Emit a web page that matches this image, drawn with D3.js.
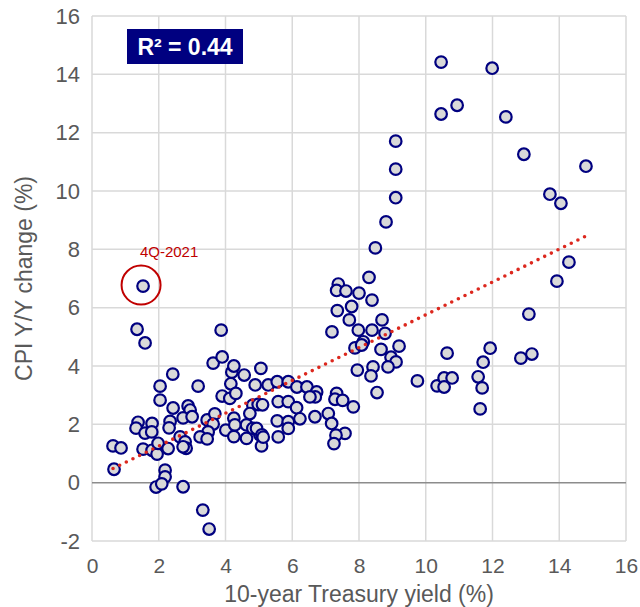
<!DOCTYPE html>
<html>
<head>
<meta charset="utf-8">
<script src="https://cdn.jsdelivr.net/npm/d3@7"></script>
<style>
  body { margin: 0; background: #fff; }
  text { font-family: "Liberation Sans", Arial, sans-serif; }
</style>
</head>
<body>
<div id="chart"></div>
<script>
// 10-year Treasury yield (%) and CPI Y/Y change (%), one entry per quarter
var treasuryYield = [
  0.66,0.63,0.87,1.53,1.35,1.59,1.38,1.32,1.80,1.59,1.79,1.53,1.80,1.95,1.98,1.92,
  2.04,2.04,2.42,2.19,2.19,2.09,2.73,3.32,3.51,3.18,2.43,2.88,2.94,2.34,2.31,2.73,
  3.00,3.45,3.68,3.63,3.48,3.24,3.45,2.64,2.79,2.82,2.28,3.87,3.63,3.90,3.90,2.73,
  4.16,4.19,4.25,4.56,5.06,4.89,5.28,5.55,5.88,4.13,4.31,4.82,4.98,5.11,5.58,5.88,
  4.01,4.25,4.28,4.25,4.63,4.82,4.73,4.63,5.03,5.08,4.93,5.09,5.55,5.58,5.88,5.88,5.13,
  6.14,6.44,6.73,6.69,6.53,6.13,6.23,6.68,7.08,7.18,7.58,7.31,7.25,7.33,7.28,7.51,7.83,
  7.38,7.33,7.61,7.19,7.35,7.78,7.71,7.88,7.98,7.95,
  8.30,8.00,8.39,8.39,8.69,8.78,8.13,8.08,8.66,9.20,8.96,9.11,8.87,8.42,8.36,8.54,
  9.10,9.10,9.10,8.81,8.49,9.75,
  10.46,11.99,10.46,10.94,12.40,12.94,14.80,13.72,14.05,14.29,13.93,13.09,11.93,11.72,
  10.64,13.18,12.85,10.34,10.55,10.55,10.79,11.57,11.69,11.63
];
var cpiChange = [
  0.46,1.26,1.19,6.74,5.26,4.79,2.07,1.87,2.03,1.70,1.74,1.15,1.11,0.98,1.35,-0.15,
  3.31,2.83,3.72,0.43,0.20,-0.04,-0.14,-0.94,-1.59,3.31,2.56,2.63,2.49,2.10,1.88,2.22,
  2.26,2.15,2.36,2.01,1.74,1.57,1.50,1.57,1.40,1.18,1.17,5.23,4.10,4.31,2.97,1.23,
  3.39,3.79,4.00,3.69,3.92,3.35,3.35,3.46,3.46,2.89,3.06,2.66,2.68,2.67,2.78,2.78,
  1.80,2.21,1.98,1.58,1.98,1.86,2.37,1.52,1.64,1.26,1.86,1.64,2.12,1.57,2.09,1.86,1.56,
  3.28,3.28,3.11,2.94,2.94,2.57,2.19,2.26,2.37,2.03,1.69,1.63,1.34,3.06,2.86,2.82,2.60,
  6.81,6.59,6.57,5.17,5.90,6.04,5.58,4.62,5.23,3.86,
  7.04,6.50,6.26,5.23,5.58,5.12,4.83,4.72,4.57,4.68,4.30,4.14,3.97,3.97,3.66,3.09,
  11.71,10.75,9.77,8.94,8.05,3.49,
  14.42,14.21,12.64,12.94,12.54,11.26,10.85,9.89,9.58,7.56,6.91,5.78,4.61,4.13,
  4.44,4.41,4.27,3.32,3.59,3.28,3.59,3.63,3.25,2.53
];
var xTicks = [0, 2, 4, 6, 8, 10, 12, 14, 16];
var yTicks = [-2, 0, 2, 4, 6, 8, 10, 12, 14, 16];
var trendSlope = 0.5625, trendIntercept = 0.13, rSquared = "0.44";
var highlight = {x: 1.53, y: 6.74, label: "4Q-2021"};

var margin = {top: 16, right: 14, bottom: 66, left: 92},
    W = 640, H = 607,
    width = W - margin.left - margin.right,
    height = H - margin.top - margin.bottom;

var x = d3.scaleLinear().domain([0, 16]).range([0, width]),
    y = d3.scaleLinear().domain([-2, 16]).range([height, 0]);

var data = treasuryYield.map(function(d, i) { return {x: d, y: cpiChange[i]}; });

var svg = d3.select("#chart").append("svg")
    .attr("width", W)
    .attr("height", H)
  .append("g")
    .attr("transform", "translate(" + margin.left + "," + margin.top + ")");

// grid
svg.append("g").selectAll("line").data(xTicks).enter().append("line")
    .attr("x1", function(d) { return x(d); }).attr("x2", function(d) { return x(d); })
    .attr("y1", 0).attr("y2", height)
    .attr("stroke", "#d9d9d9").attr("stroke-width", 1.5);
svg.append("g").selectAll("line").data(yTicks).enter().append("line")
    .attr("x1", 0).attr("x2", width)
    .attr("y1", function(d) { return y(d); }).attr("y2", function(d) { return y(d); })
    .attr("stroke", function(d) { return d === 0 ? "#8c8c8c" : "#d9d9d9"; })
    .attr("stroke-width", 1.5);

// axes (labels only), plain hyphen for negatives
var fmt = function(d) { return String(d); };
var xAxis = svg.append("g")
    .attr("transform", "translate(0," + height + ")")
    .call(d3.axisBottom(x).tickValues(xTicks).tickFormat(fmt).tickSize(0).tickPadding(17));
var yAxis = svg.append("g")
    .call(d3.axisLeft(y).tickValues(yTicks).tickFormat(fmt).tickSize(0).tickPadding(12));
xAxis.selectAll("text").style("font-size", "21px");
yAxis.selectAll("text").style("font-size", "22px");
[xAxis, yAxis].forEach(function(a) {
  a.select(".domain").remove();
  a.selectAll("text")
    .style("font-family", "'Liberation Sans', Arial, sans-serif")
    .attr("fill", "#595959");
});

svg.append("text")
    .attr("x", width / 2).attr("y", height + 61)
    .attr("text-anchor", "middle")
    .style("font-size", "23px").attr("fill", "#595959")
    .text("10-year Treasury yield (%)");
svg.append("text")
    .attr("transform", "translate(" + (-60) + "," + (height / 2) + ") rotate(-90)")
    .attr("text-anchor", "middle")
    .style("font-size", "23px").attr("fill", "#595959")
    .text("CPI Y/Y change (%)");

// points
svg.append("g").selectAll("circle").data(data).enter().append("circle")
    .attr("cx", function(d) { return x(d.x); })
    .attr("cy", function(d) { return y(d.y); })
    .attr("r", 5.8)
    .attr("fill", "#d9d9d9")
    .attr("stroke", "#000080")
    .attr("stroke-width", 2.2);

// trend line
var ext = d3.extent(treasuryYield);
svg.append("line")
    .attr("x1", x(ext[0])).attr("y1", y(trendIntercept + trendSlope * ext[0]))
    .attr("x2", x(ext[1])).attr("y2", y(trendIntercept + trendSlope * ext[1]))
    .attr("stroke", "#dc281e").attr("stroke-width", 3.6)
    .attr("stroke-linecap", "round").attr("stroke-dasharray", "0 7.4");

// R² box
svg.append("rect")
    .attr("x", 35).attr("y", 13).attr("width", 116).attr("height", 35)
    .attr("fill", "#000080");
svg.append("text")
    .attr("x", 35 + 58).attr("y", 39)
    .attr("text-anchor", "middle")
    .style("font-size", "23px").style("font-weight", "bold")
    .attr("fill", "#fff")
    .text("R² = " + rSquared);

// highlight annotation
svg.append("circle")
    .attr("cx", x(highlight.x) - 2).attr("cy", y(highlight.y) - 1)
    .attr("r", 19.5)
    .attr("fill", "none").attr("stroke", "#c00000").attr("stroke-width", 2);
svg.append("text")
    .attr("x", x(highlight.x) + 26).attr("y", y(highlight.y) - 29)
    .attr("text-anchor", "middle")
    .style("font-size", "15px").attr("fill", "#c00000")
    .text(highlight.label);
</script>
</body>
</html>
